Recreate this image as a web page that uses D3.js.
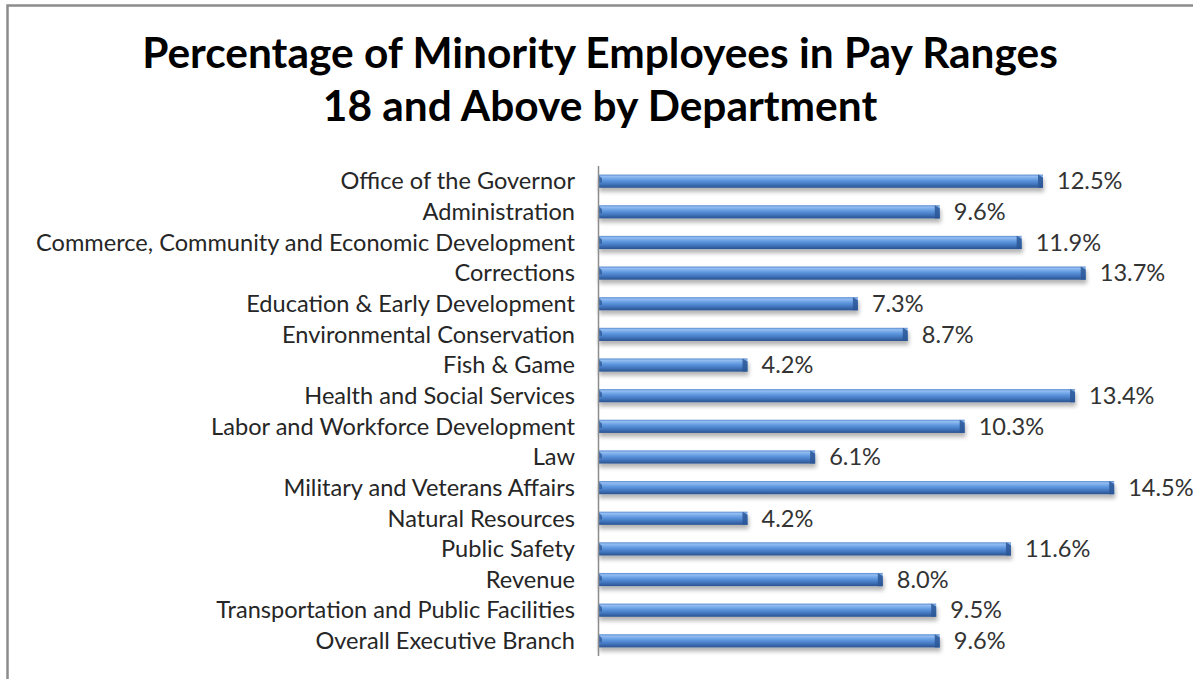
<!DOCTYPE html>
<html><head><meta charset="utf-8">
<script src="https://cdn.jsdelivr.net/npm/d3@7"></script>
<style>body{margin:0;background:#fff;}svg{display:block;}</style>
</head><body>
<svg id="chart" width="1193" height="679"></svg>
<script>
const departments = [
  "Office of the Governor","Administration","Commerce, Community and Economic Development",
  "Corrections","Education & Early Development","Environmental Conservation","Fish & Game",
  "Health and Social Services","Labor and Workforce Development","Law",
  "Military and Veterans Affairs","Natural Resources","Public Safety","Revenue",
  "Transportation and Public Facilities","Overall Executive Branch"
];
const percentages = [12.5,9.6,11.9,13.7,7.3,8.7,4.2,13.4,10.3,6.1,14.5,4.2,11.6,8.0,9.5,9.6];
const titleLines = ["Percentage of Minority Employees in Pay Ranges","18 and Above by Department"];

const svg = d3.select("#chart");
const W = 1193, H = 679;
const font = "Lato, 'Open Sans', sans-serif";

// outer border
svg.append("rect").attr("x",7.5).attr("y",5.5).attr("width",W+20).attr("height",H+20)
  .attr("fill","#fff").attr("stroke","#8c8c8c").attr("stroke-width",2.5);

const defs = svg.append("defs");
const g = defs.append("linearGradient").attr("id","barGrad").attr("x1",0).attr("y1",0).attr("x2",0).attr("y2",1);
[["0%","#5a8bd0"],["14%","#93bdf2"],["42%","#6099e0"],["72%","#4276be"],["100%","#2a528f"]]
  .forEach(([o,c])=>g.append("stop").attr("offset",o).attr("stop-color",c));
const f = defs.append("filter").attr("id","shadow").attr("x","-5%").attr("y","-50%").attr("width","110%").attr("height","250%");
f.append("feGaussianBlur").attr("in","SourceAlpha").attr("stdDeviation",2.2);
f.append("feOffset").attr("dx",1).attr("dy",4).attr("result","ob");
f.append("feComponentTransfer").append("feFuncA").attr("type","linear").attr("slope",0.3);
const fm = f.append("feMerge"); fm.append("feMergeNode"); fm.append("feMergeNode").attr("in","SourceGraphic");

const x = d3.scaleLinear().domain([0,16]).range([598, 598 + 16*35.6]);
const y = d3.scaleBand().domain(departments).range([166, 656]).paddingInner(0.57).paddingOuter(0.28);

// title
const title = svg.append("g");
titleLines.forEach((t,i)=>{
  title.append("text").attr("x",600).attr("y",[68,121][i]).attr("text-anchor","middle")
    .attr("font-family",font).attr("font-weight","bold").attr("font-size",37).attr("fill","#000").text(t);
});
const t1 = title.select("text").node();
const tScale = 916 / t1.getComputedTextLength();
title.selectAll("text").attr("font-size",37*tScale);

// bars
const bars = svg.append("g");
const bh = y.bandwidth();
departments.forEach((d,i)=>{
  const x0 = x(0), x1 = x(percentages[i]), y0 = y(d);
  const b = bars.append("g").attr("filter","url(#shadow)");
  b.append("rect").attr("x",x0).attr("y",y0).attr("width",x1-x0).attr("height",bh).attr("fill","url(#barGrad)");
  b.append("path").attr("d",`M${x1-5},${y0} L${x1},${y0+3} L${x1},${y0+bh} L${x1-5},${y0+bh} Z`).attr("fill","#2b5796").attr("opacity",0.85);
  b.append("path").attr("d",`M${x0},${y0} L${x0+4},${y0+4} L${x0+4},${y0+bh*0.6} L${x0},${y0+bh*0.6} Z`).attr("fill","#2f5b9a").attr("opacity",0.8);
});

// axis line
svg.append("line").attr("x1",x(0)+0.5).attr("x2",x(0)+0.5).attr("y1",166).attr("y2",656)
  .attr("stroke","#8c8c8c").attr("stroke-width",1.5);

// category labels
const labels = svg.append("g");
departments.forEach(d=>{
  labels.append("text").attr("x",575).attr("y",y(d)+bh/2).attr("dy","0.35em").attr("text-anchor","end")
    .attr("font-family",font).attr("font-size",20).attr("fill","#262626").text(d);
});
const longest = labels.selectAll("text").nodes()[2];
const lScale = 539 / longest.getComputedTextLength();
labels.selectAll("text").attr("font-size",20*lScale);

// value labels
const vals = svg.append("g");
departments.forEach((d,i)=>{
  vals.append("text").attr("x",x(percentages[i])+14).attr("y",y(d)+bh/2).attr("dy","0.35em")
    .attr("font-family",font).attr("font-size",20*lScale).attr("fill","#333").text(percentages[i].toFixed(1)+"%");
});
</script>
</body></html>
